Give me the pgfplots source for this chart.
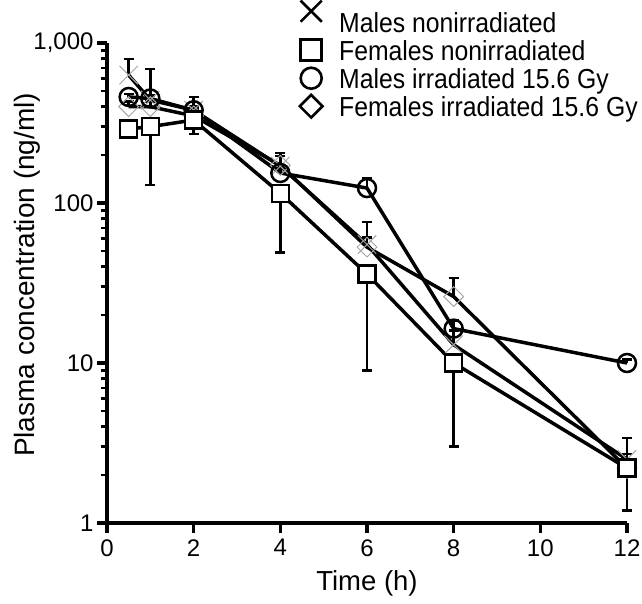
\documentclass[border=0pt]{standalone}
\usepackage{fontspec}
\setmainfont{Liberation Sans}
\newfontfamily\legfont{Liberation Sans}[FakeStretch=0.9]
\usepackage{pgfplots}
\pgfplotsset{compat=1.18}
\pgfplotsset{
  mylegimg/.style={legend image code/.code={\path[draw=none,fill=none] (-12pt,-13pt) rectangle (12pt,13pt); \draw[##1, overlay] plot coordinates {(0pt,3pt)};}},
  mylegimgup/.style={legend image code/.code={\path[draw=none,fill=none] (-12pt,-13pt) rectangle (12pt,13pt); \draw[##1, overlay] plot coordinates {(0pt,14pt)};}},
}
\begin{document}
\begin{tikzpicture}
\begin{axis}[
  name=ax,
  scale only axis, width=520pt, height=480pt,
  font=\fontsize{24}{28}\selectfont,
  ymode=log, xmin=0, xmax=12, ymin=1, ymax=1000,
  clip=false,
  axis x line*=bottom, axis y line*=left,
  axis line style={-, line width=4.5pt},
  xtick={0,2,...,12},
  ytick={1,10,100,1000}, yticklabels={1,10,100,{1,000}},
  /pgf/number format/assume math mode=true,
  tick align=outside,
  major tick length=10pt, minor tick length=6pt,
  major tick style={line width=3.5pt, black},
  minor tick style={line width=2.5pt, black},
  xticklabel style={yshift=-3pt},
  xlabel={Time (h)}, ylabel={Plasma concentration (ng/ml)},
  xlabel style={font=\fontsize{27.5}{32}\selectfont, at={(axis description cs:0.5,-0.125)}, anchor=center},
  ylabel style={font=\fontsize{28}{32}\selectfont, at={(axis description cs:-0.154,0.517)}, anchor=center},
  legend style={draw=none, fill=none, at={(0.3692,1.0656)}, anchor=north west, legend cell align=left,
    font=\legfont\fontsize{27.5}{32}\selectfont, row sep=1pt, column sep=15pt, inner sep=0pt,
    nodes={inner sep=1pt, text height=20pt, text depth=5pt}},
]
\addlegendimage{mylegimgup, only marks, mark=x, mark size=15pt, black, mark options={line width=2.6pt, mark size=15pt}}
\addlegendentry{Males nonirradiated}
\addlegendimage{mylegimg, only marks, mark=square, mark size=10.5pt, black, mark options={line width=2.6pt, mark size=10.5pt}}
\addlegendentry{Females nonirradiated}
\addlegendimage{mylegimg, only marks, mark=o, mark size=10.5pt, black, mark options={line width=2.6pt, mark size=10.5pt}}
\addlegendentry{Males irradiated 15.6 Gy}
\addlegendimage{mylegimg, only marks, mark=square, mark size=8pt, black, mark options={rotate=45, line width=2.6pt, mark size=8pt}}
\addlegendentry{Females irradiated 15.6 Gy}

% Males nonirradiated
\addplot[forget plot, black, line width=3.5pt, mark=x, mark size=13pt, mark options={gray!70, line width=1pt},
  error bars/.cd, y dir=plus, y explicit, error bar style={line width=2.5pt, black},
  error mark options={rotate=90, mark size=5pt, line width=2.5pt, black}]
  coordinates {
  (0.5,630) += (0,165)
  (1,440) += (0,250)
  (2,380) += (0,80)
  (4,170) += (0,35)
  (6,55) += (0,21)
  (8,13) += (0,3)
  (12,2.5) += (0,0.9)
};
% Females irradiated
\addplot[forget plot, black, line width=3.5pt, mark=square, mark size=7pt, mark options={rotate=45, gray!70, line width=1pt},
  error bars/.cd, y dir=plus, y explicit, error bar style={line width=2.5pt, black},
  error mark options={rotate=90, mark size=5pt, line width=2.5pt, black}]
  coordinates {
  (0.5,400) += (0,30)
  (1,400) += (0,30)
  (2,350) += (0,40)
  (4,172) += (0,25)
  (6,53) += (0,8)
  (8,26) += (0,8)
  (12,2.2) += (0,0.5)
};
% Males irradiated
\addplot[forget plot, black, line width=3.5pt, mark=o, mark size=9pt, mark options={black, line width=2.5pt},
  error bars/.cd, y dir=plus, y explicit, error bar style={line width=2.5pt, black},
  error mark options={rotate=90, mark size=5pt, line width=2.5pt, black}]
  coordinates {
  (0.5,460) += (0,20)
  (1,450) += (0,20)
  (2,380) += (0,20)
  (4,154) += (0,10)
  (6,124) += (0,18)
  (8,16.4) += (0,2)
  (12,10) += (0,0.5)
};
% Females nonirradiated
\addplot[forget plot, black, line width=3.5pt, mark=square*, mark size=8.5pt, mark options={fill=white, draw=black, line width=2.5pt},
  error bars/.cd, y dir=minus, y explicit, error bar style={line width=2.5pt, black},
  error mark options={rotate=90, mark size=5pt, line width=2.5pt, black}]
  coordinates {
  (0.5,290) -= (0,35)
  (1,300) -= (0,170)
  (2,330) -= (0,60)
  (4,115) -= (0,66)
  (6,36) -= (0,27)
  (8,10) -= (0,7)
  (12,2.2) -= (0,1.0)
};
\end{axis}
\pgfresetboundingbox
\path[use as bounding box] ([xshift=-107pt,yshift=-80pt]ax.south west) rectangle ([xshift=15pt,yshift=43pt]ax.north east);
\end{tikzpicture}
\end{document}
